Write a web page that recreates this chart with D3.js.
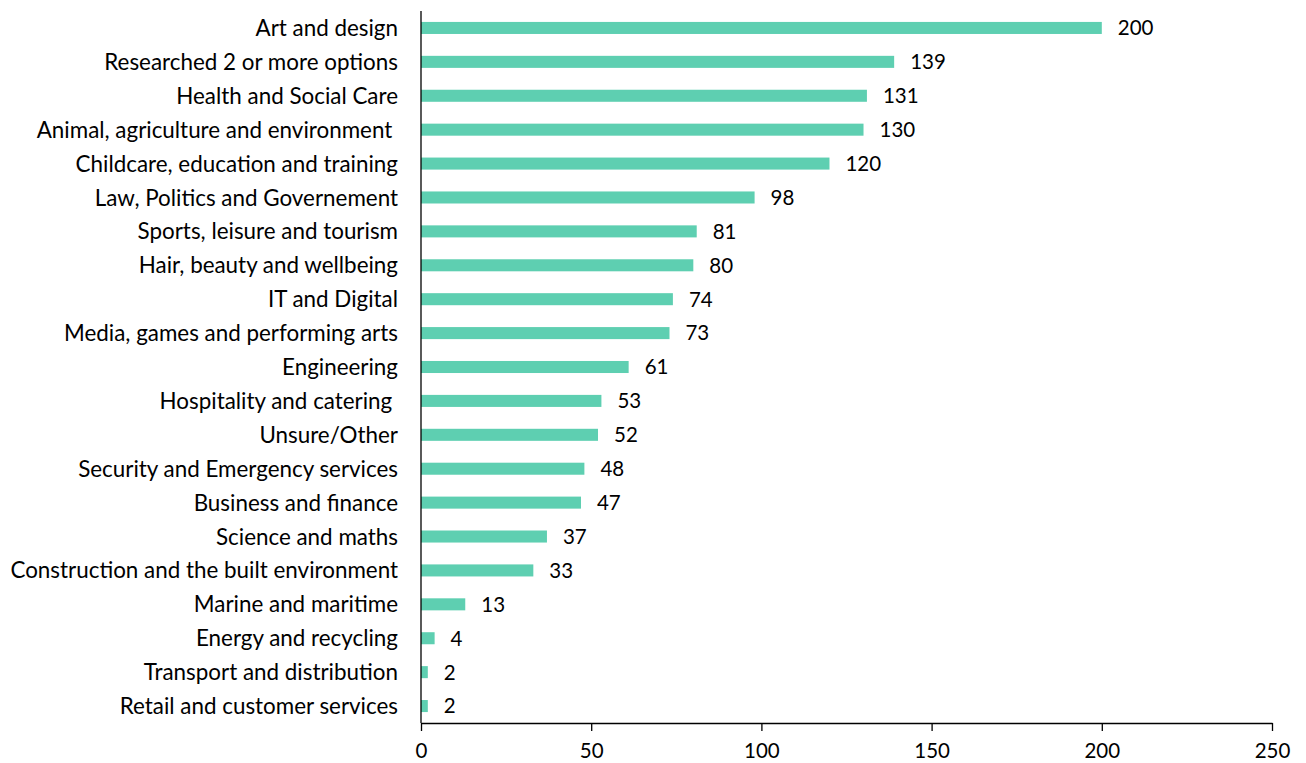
<!DOCTYPE html>
<html>
<head>
<meta charset="utf-8">
<script src="https://cdn.jsdelivr.net/npm/d3@7"></script>
<style>
  body { margin: 0; background: #fff; }
  svg text { font-family: Lato, "Open Sans", sans-serif; fill: #000; white-space: pre; }
</style>
</head>
<body>
<svg id="chart" width="1306" height="763"></svg>
<script>
const categories = [
  "Art and design",
  "Researched 2 or more options",
  "Health and Social Care",
  "Animal, agriculture and environment ",
  "Childcare, education and training",
  "Law, Politics and Governement",
  "Sports, leisure and tourism",
  "Hair, beauty and wellbeing",
  "IT and Digital",
  "Media, games and performing arts",
  "Engineering",
  "Hospitality and catering ",
  "Unsure/Other",
  "Security and Emergency services",
  "Business and finance",
  "Science and maths",
  "Construction and the built environment",
  "Marine and maritime",
  "Energy and recycling",
  "Transport and distribution",
  "Retail and customer services"
];
const counts = [200, 139, 131, 130, 120, 98, 81, 80, 74, 73, 61, 53, 52, 48, 47, 37, 33, 13, 4, 2, 2];
const tickValues = [0, 50, 100, 150, 200, 250];

const svg = d3.select("#chart");
const plotLeft = 421, plotRight = 1272, plotTop = 11, plotBottom = 723;

const x = d3.scaleLinear().domain([0, 250]).range([plotLeft, plotRight]);
const y = d3.scaleBand().domain(categories).range([plotTop, plotBottom]).paddingInner(0.645).paddingOuter(0.3225);

// bars
svg.append("g").selectAll("rect")
  .data(categories)
  .join("rect")
  .attr("x", x(0))
  .attr("y", d => y(d))
  .attr("width", (d, i) => x(counts[i]) - x(0))
  .attr("height", y.bandwidth())
  .attr("fill", "#5ecfb1");

// value labels
svg.append("g").selectAll("text")
  .data(categories)
  .join("text")
  .attr("x", (d, i) => x(counts[i]) + 16)
  .attr("y", d => y(d) + y.bandwidth() / 2)
  .attr("dy", "0.36em")
  .attr("font-size", 20.5)
  .text((d, i) => counts[i]);

// category labels
svg.append("g").selectAll("text")
  .data(categories)
  .join("text")
  .attr("x", plotLeft - 23)
  .attr("y", d => y(d) + y.bandwidth() / 2)
  .attr("dy", "0.36em")
  .attr("text-anchor", "end")
  .attr("font-size", 22.4)
  .text(d => d);

// vertical axis line
svg.append("line")
  .attr("x1", x(0)).attr("x2", x(0))
  .attr("y1", plotTop).attr("y2", plotBottom)
  .attr("stroke", "#000").attr("stroke-width", 1.3);

// horizontal axis
const xAxis = d3.axisBottom(x).tickValues(tickValues).tickSize(8).tickPadding(12).tickSizeOuter(0);
const gx = svg.append("g").attr("transform", `translate(0,${plotBottom})`).call(xAxis);
gx.select(".domain").attr("stroke", "#000").attr("stroke-width", 1.3);
gx.selectAll(".tick line").attr("stroke", "#000").attr("stroke-width", 1.3);
gx.selectAll(".tick text").attr("font-size", 20.5).attr("font-family", "Lato, 'Open Sans', sans-serif").attr("fill", "#000");
</script>
</body>
</html>
